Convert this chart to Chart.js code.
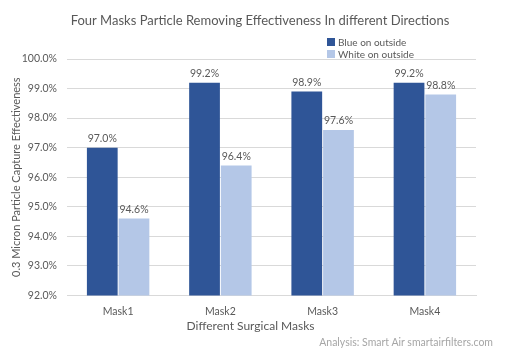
<!DOCTYPE html>
<html>
<head>
<meta charset="utf-8">
<script src="https://cdn.jsdelivr.net/npm/chart.js@4"></script>
<style>
  html, body { margin: 0; padding: 0; background: #fff; }
  #wrap { position: relative; width: 508px; height: 355px; }
  #legend { position: absolute; left: 327px; top: 36px; font-family: Lato, sans-serif; font-size: 10px; color: #595959; line-height: 12px; }
  #legend span.box { display: inline-block; width: 8px; height: 8px; margin-right: 3px; }
  #footer { position: absolute; right: 15px; top: 336px; font-family: Lato, sans-serif; font-size: 10.5px; line-height: 13px; color: #a6a6a6; }
</style>
</head>
<body>
<div id="wrap">
  <canvas id="c" width="508" height="355"></canvas>
  <div id="legend"></div>
  <div id="footer">Analysis: Smart Air smartairfilters.com</div>
</div>
<script>
const categories = ["Mask1", "Mask2", "Mask3", "Mask4"];
const seriesNames = ["Blue on outside", "White on outside"];
const blueOnOutside = [97.0, 99.2, 98.9, 99.2];
const whiteOnOutside = [94.6, 96.4, 97.6, 98.8];
const colors = ["#2F5597", "#B4C7E7"];
const yMin = 92, yMax = 100, yStep = 1;
const chartTitle = "Four Masks Particle Removing Effectiveness In different Directions";
const xTitle = "Different Surgical Masks";

const FONT = "Lato, sans-serif";
const GREY = "#595959";

const legendEl = document.getElementById('legend');
seriesNames.forEach((n, i) => {
  const d = document.createElement('div');
  d.innerHTML = '<span class="box" style="background:' + colors[i] + '"></span>' + n;
  legendEl.appendChild(d);
});

const labelPlugin = {
  id: 'barLabels',
  afterDatasetsDraw(chart) {
    const ctx = chart.ctx;
    ctx.save();
    ctx.font = "10.5px " + FONT;
    ctx.fillStyle = GREY;
    ctx.textAlign = 'center';
    ctx.textBaseline = 'bottom';
    chart.data.datasets.forEach((ds, di) => {
      chart.getDatasetMeta(di).data.forEach((bar, i) => {
        ctx.fillText(ds.data[i].toFixed(1) + '%', bar.x, bar.y - 4);
      });
    });
    const a = chart.chartArea;
    ctx.textBaseline = 'middle';
    // x axis title
    ctx.font = "12px " + FONT;
    ctx.fillText(xTitle, (a.left + a.right) / 2 - 21, a.bottom + 31);
    // chart title
    ctx.font = "13px " + FONT;
    ctx.fillText(chartTitle, chart.width / 2 + 6, 21);
    ctx.restore();
  }
};

new Chart(document.getElementById('c'), {
  type: 'bar',
  data: {
    labels: categories,
    datasets: [
      { label: seriesNames[0], data: blueOnOutside, backgroundColor: colors[0], categoryPercentage: 0.62, barPercentage: 0.97 },
      { label: seriesNames[1], data: whiteOnOutside, backgroundColor: colors[1], categoryPercentage: 0.62, barPercentage: 0.97 }
    ]
  },
  options: {
    responsive: false,
    animation: false,
    layout: { padding: { left: 6, right: 32, top: 59, bottom: 35 } },
    plugins: {
      legend: { display: false },
      tooltip: { enabled: false },
      title: { display: false }
    },
    scales: {
      x: {
        grid: { display: false },
        border: { color: '#d9d9d9' },
        ticks: { color: GREY, font: { family: FONT, size: 10.5 }, padding: 2 }
      },
      y: {
        min: yMin, max: yMax,
        grid: { color: '#d9d9d9', drawTicks: false },
        border: { display: false },
        ticks: { stepSize: yStep, color: GREY, font: { family: FONT, size: 10.5 }, padding: 10,
                 callback: v => v.toFixed(1) + '%' },
        title: { display: true, text: "0.3 Micron Particle Capture Effectiveness", color: GREY, font: { family: FONT, size: 11 }, padding: { bottom: 2 } },
        afterFit(scale) { scale.width = 61; }
      }
    }
  },
  plugins: [labelPlugin]
});
</script>
</body>
</html>
